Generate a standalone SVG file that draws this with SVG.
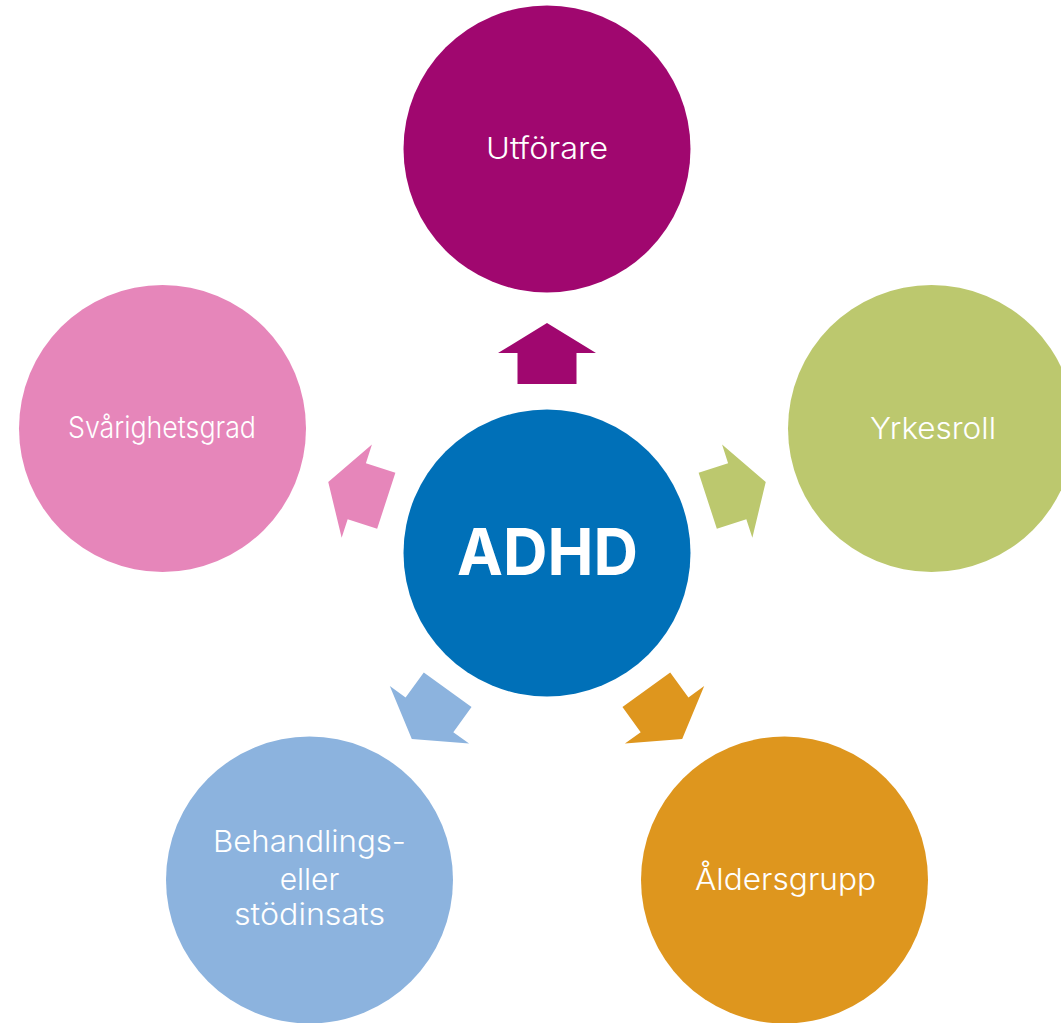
<svg xmlns="http://www.w3.org/2000/svg" width="1061" height="1023" viewBox="0 0 1061 1023">
<style>
.lbl{font-family:Inter,"Liberation Sans",sans-serif;font-size:30px;fill:#fff;text-anchor:middle;font-weight:350}
.big{font-family:Inter,"Liberation Sans",sans-serif;font-size:65px;fill:#fff;text-anchor:middle;font-weight:700}
</style>
<defs>
<polygon id="arr" points="0,-230 49,-200 29.5,-200 29.5,-169 -29.5,-169 -29.5,-200 -49,-200"/>
</defs>
<rect width="1061" height="1023" fill="#fff"/>
<g id="connectors">
<use href="#arr" transform="translate(547,553)" fill="#A0076F"/>
<use href="#arr" transform="translate(547,553) rotate(72)" fill="#BCC86E"/>
<use href="#arr" transform="translate(547,553) rotate(144)" fill="#DE961E"/>
<use href="#arr" transform="translate(547,553) rotate(216)" fill="#8CB3DE"/>
<use href="#arr" transform="translate(547,553) rotate(288)" fill="#E686BA"/>
</g>
<g id="center"><circle cx="547" cy="553" r="143.5" fill="#0070B8"/><text class="big" x="547.5" y="575" textLength="181" lengthAdjust="spacingAndGlyphs">ADHD</text></g>
<g id="utforare"><circle cx="547" cy="149" r="143.5" fill="#A0076F"/><text class="lbl" x="547" y="159" textLength="122" lengthAdjust="spacingAndGlyphs">Utförare</text></g>
<g id="yrkesroll"><circle cx="931.5" cy="428.5" r="143.5" fill="#BCC86E"/><text class="lbl" x="933" y="439" textLength="126" lengthAdjust="spacingAndGlyphs">Yrkesroll</text></g>
<g id="aldersgrupp"><circle cx="784.5" cy="880" r="143.5" fill="#DE961E"/><text class="lbl" x="785.5" y="890" textLength="181" lengthAdjust="spacingAndGlyphs">Åldersgrupp</text></g>
<g id="behandling"><circle cx="309.5" cy="880" r="143.5" fill="#8CB3DE"/><text class="lbl" x="309.5" y="852" textLength="193" lengthAdjust="spacingAndGlyphs">Behandlings-</text><text class="lbl" x="309.5" y="890">eller</text><text class="lbl" x="309.5" y="925" textLength="151" lengthAdjust="spacingAndGlyphs">stödinsats</text></g>
<g id="svarighetsgrad"><circle cx="162.5" cy="428.5" r="143.5" fill="#E686BA"/><text class="lbl" x="162" y="438" textLength="188" lengthAdjust="spacingAndGlyphs">Svårighetsgrad</text></g>
</svg>
